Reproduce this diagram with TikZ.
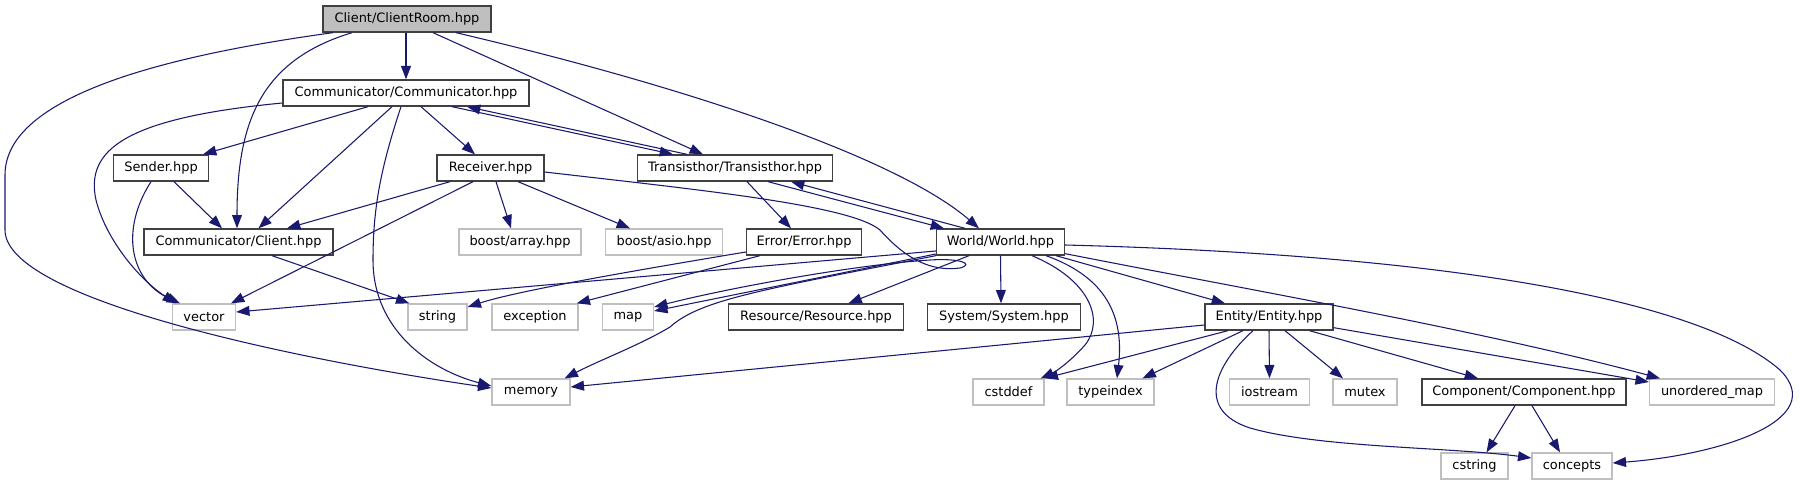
\documentclass[tikz,border=0pt]{standalone}
\usepackage{fontspec}
\setmainfont{DejaVu Sans}
\usetikzlibrary{arrows.meta}
\definecolor{edgec}{HTML}{191970}
\definecolor{nodeb}{HTML}{404040}
\definecolor{extb}{HTML}{BFBFBF}
\definecolor{rootf}{HTML}{BFBFBF}
\begin{document}
\begin{tikzpicture}[x=0.75pt,y=-0.75pt,
  wd/.style={minimum width=#1*0.75pt},
  box/.style={draw=nodeb, line width=1pt, fill=white, minimum height=19.5pt, inner sep=0pt, font=\fontsize{9.7}{11}\selectfont, text=black},
  ext/.style={box, draw=extb},
  root/.style={box, fill=rootf},
  dep/.style={draw=edgec, line width=0.8pt, -{Triangle[length=10pt,width=7.4pt]}}
]
\path[use as bounding box, fill=white] (0,0) rectangle (1802,485);

\node[root, wd=168] (cr) at (407,19) {Client/ClientRoom.hpp};
\node[box, wd=246] (comm) at (406,93) {Communicator/Communicator.hpp};
\node[box, wd=95] (sender) at (161,168) {Sender.hpp};
\node[box, wd=107] (recv) at (490.5,168) {Receiver.hpp};
\node[box, wd=195] (trans) at (735,168) {Transisthor/Transisthor.hpp};
\node[box, wd=189] (client) at (238.5,242) {Communicator/Client.hpp};
\node[ext, wd=122] (barray) at (520,242) {boost/array.hpp};
\node[ext, wd=117] (basio) at (664,242) {boost/asio.hpp};
\node[box, wd=115] (error) at (804,242) {Error/Error.hpp};
\node[box, wd=128] (world) at (1000.5,242) {World/World.hpp};
\node[ext, wd=63] (vector) at (204,317) {vector};
\node[ext, wd=59] (string) at (437.5,317) {string};
\node[ext, wd=86] (exception) at (535,317) {exception};
\node[ext, wd=51] (map) at (628,317) {map};
\node[box, wd=175] (resource) at (816,317) {Resource/Resource.hpp};
\node[box, wd=153] (system) at (1004,317) {System/System.hpp};
\node[box, wd=128] (entity) at (1269,317) {Entity/Entity.hpp};
\node[ext, wd=78] (memory) at (531,392) {memory};
\node[ext, wd=71] (cstddef) at (1008.5,392) {cstddef};
\node[ext, wd=87] (typeindex) at (1110.5,392) {typeindex};
\node[ext, wd=80] (iostream) at (1269.5,392) {iostream};
\node[ext, wd=64] (mutex) at (1365,392) {mutex};
\node[box, wd=204] (component) at (1524,392) {Component/Component.hpp};
\node[ext, wd=125] (umap) at (1712,392) {unordered\_map};
\node[ext, wd=67] (cstring) at (1474.5,466) {cstring};
\node[ext, wd=80] (concepts) at (1572,466) {concepts};

% ClientRoom
\draw[dep] ([shift={(-74,0)}]cr.south) .. controls (170,55) and (5,95) .. (5,175) -- (5,230) .. controls (5,300) and (300,360) .. ([shift={(0,-4)}]memory.west);
\draw[dep] ([shift={(-55,0)}]cr.south) .. controls (262,60) and (237,120) .. ([shift={(-1.5,0)}]client.north);
\draw[dep] ([shift={(-1,0)}]cr.south) -- (comm.north);
\draw[dep] ([shift={(26,0)}]cr.south) -- ([shift={(-32,0)}]trans.north);
\draw[dep] ([shift={(49,0)}]cr.south) .. controls (700,90) and (900,160) .. ([shift={(-21.5,0)}]world.north);
% Communicator
\draw[dep] ([shift={(0,10)}]comm.west) .. controls (125,118) and (85,150) .. (96,200) .. controls (106,240) and (140,280) .. ([shift={(-28,0)}]vector.north);
\draw[dep] ([shift={(-38,0)}]comm.south) -- ([shift={(42,0)}]sender.north);
\draw[dep] ([shift={(-14,0)}]comm.south) -- ([shift={(20,0)}]client.north);
\draw[dep] ([shift={(-5,0)}]comm.south) .. controls (380,170) and (373,210) .. (373,260) .. controls (373,330) and (430,370) .. ([shift={(0,-6)}]memory.west);
\draw[dep] ([shift={(15,0)}]comm.south) -- ([shift={(-15.5,0)}]recv.north);
\draw[dep] ([shift={(46,0)}]comm.south) -- ([shift={(-62,0)}]trans.north);
% Transisthor
\draw[dep] ([shift={(-48,0)}]trans.north) -- ([shift={(61,0)}]comm.south);
\draw[dep] ([shift={(12,0)}]trans.south) -- ([shift={(-13,0)}]error.north);
\draw[dep] ([shift={(33,0)}]trans.south) -- ([shift={(-56.5,0)}]world.north);
% Sender
\draw[dep] ([shift={(13,0)}]sender.south) -- ([shift={(-16.5,0)}]client.north);
\draw[dep] ([shift={(-10,0)}]sender.south) .. controls (120,230) and (130,280) .. ([shift={(-24,0)}]vector.north);
% Receiver
\draw[dep] ([shift={(-40.5,0)}]recv.south) -- ([shift={(48.5,0)}]client.north);
\draw[dep] ([shift={(-17.5,0)}]recv.south) -- ([shift={(27,0)}]vector.north);
\draw[dep] ([shift={(5.5,0)}]recv.south) -- ([shift={(-9,0)}]barray.north);
\draw[dep] ([shift={(27.5,0)}]recv.south) -- ([shift={(-34,0)}]basio.north);
\draw[dep] ([shift={(0,4)}]recv.east) .. controls (700,190) and (850,205) .. (880,230) .. controls (905,258) and (930,272) .. (960,268) .. controls (975,264) and (960,258) .. (930,260) .. controls (850,265) and (720,290) .. ([shift={(0,-10)}]map.east);
% Client
\draw[dep] ([shift={(33.5,0)}]client.south) -- ([shift={(2,0)}]string.north west);
% Error
\draw[dep] ([shift={(0,10)}]error.west) .. controls (650,268) and (520,290) .. ([shift={(0,-10)}]string.east);
\draw[dep] ([shift={(-44,0)}]error.south) -- ([shift={(-2,0)}]exception.north east);
% World
\draw[dep] ([shift={(-35.5,0)}]world.north) -- ([shift={(56,0)}]trans.south);
\draw[dep] ([shift={(0,9)}]world.west) -- ([shift={(0,-5)}]vector.east);
\draw[dep] ([shift={(0,12)}]world.west) -- ([shift={(0,-6)}]map.east);
\draw[dep] (world.south west) .. controls (760,290) and (700,300) .. (670,327) .. controls (640,345) and (600,360) .. ([shift={(-6,0)}]memory.north east);
\draw[dep] ([shift={(-31.5,0)}]world.south) -- ([shift={(32.5,0)}]resource.north);
\draw[dep] (world.south) -- ([shift={(-3,0)}]system.north);
\draw[dep] ([shift={(31.5,0)}]world.south) .. controls (1090,280) and (1105,320) .. (1085,345) .. controls (1070,362) and (1055,372) .. ([shift={(-4,0)}]cstddef.north east);
\draw[dep] ([shift={(45.5,0)}]world.south) .. controls (1100,275) and (1125,310) .. ([shift={(6.5,0)}]typeindex.north);
\draw[dep] ([shift={(55.5,0)}]world.south) -- ([shift={(-44,0)}]entity.north);
\draw[dep] ([shift={(0,-2)}]world.south east) .. controls (1250,290) and (1480,330) .. ([shift={(-52,0)}]umap.north);
\draw[dep] ([shift={(0,3)}]world.east) .. controls (1450,255) and (1700,300) .. (1780,370) .. controls (1830,420) and (1720,455) .. ([shift={(0,-3)}]concepts.east);
% Entity
\draw[dep] ([shift={(0,8)}]entity.west) -- ([shift={(0,-5)}]memory.east);
\draw[dep] ([shift={(-41,0)}]entity.south) -- (cstddef.north east);
\draw[dep] ([shift={(-26,0)}]entity.south) -- ([shift={(32,0)}]typeindex.north);
\draw[dep] ([shift={(-16,0)}]entity.south) .. controls (1215,365) and (1195,410) .. (1250,428) .. controls (1320,448) and (1450,447) .. ([shift={(0,-8)}]concepts.west);
\draw[dep] (entity.south) -- (iostream.north);
\draw[dep] ([shift={(16,0)}]entity.south) -- ([shift={(-22,0)}]mutex.north);
\draw[dep] ([shift={(40.5,0)}]entity.south) -- ([shift={(-46,0)}]component.north);
\draw[dep] ([shift={(0,-3)}]entity.south east) -- ([shift={(0,-10)}]umap.west);
% Component
\draw[dep] ([shift={(-9,0)}]component.south) -- ([shift={(12,0)}]cstring.north);
\draw[dep] ([shift={(8,0)}]component.south) -- ([shift={(-12,0)}]concepts.north);
\end{tikzpicture}
\end{document}
